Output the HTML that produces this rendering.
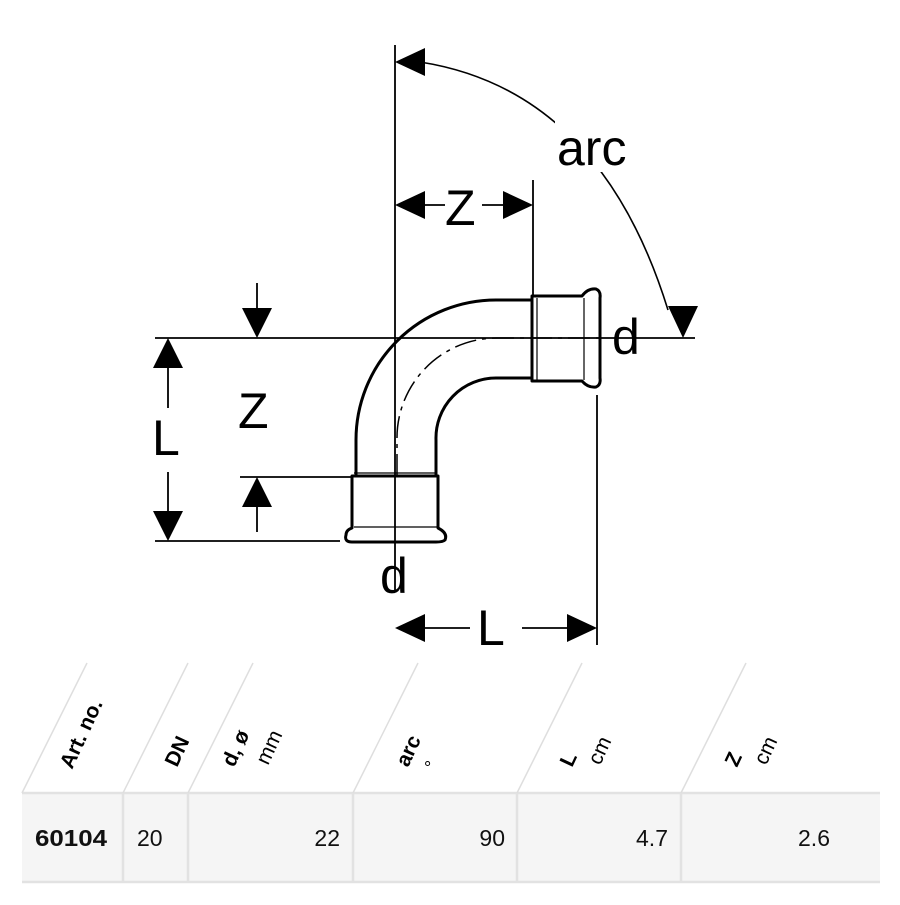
<!DOCTYPE html>
<html><head><meta charset="utf-8"><style>
body{margin:0;background:#fff;width:900px;height:900px;overflow:hidden;font-family:"Liberation Sans",sans-serif}
</style></head><body>
<svg width="900" height="900" viewBox="0 0 900 900" xmlns="http://www.w3.org/2000/svg">
<g stroke="#000" stroke-width="1.8" fill="none">
<line x1="395" y1="45" x2="395" y2="590"/>
<line x1="155" y1="338" x2="695" y2="338"/>
<line x1="533" y1="180" x2="533" y2="296"/>
<line x1="597" y1="395" x2="597" y2="645"/>
<line x1="155" y1="541" x2="340" y2="541"/>
<line x1="240" y1="477" x2="352" y2="477"/>
<line x1="168" y1="368" x2="168" y2="408"/>
<line x1="168" y1="472" x2="168" y2="511"/>
<line x1="257" y1="283" x2="257" y2="308"/>
<line x1="257" y1="507" x2="257" y2="532"/>
<line x1="425" y1="205" x2="445" y2="205"/>
<line x1="482" y1="205" x2="503" y2="205"/>
<line x1="425" y1="628" x2="470" y2="628"/>
<line x1="522" y1="628" x2="567" y2="628"/>
<path d="M420 62 Q600 90 668 310" stroke-width="1.6"/>
</g>
<rect x="555" y="120" width="90" height="52" fill="#fff"/>
<g fill="#000">
<polygon points="395,62 425,48 425,76"/>
<polygon points="683,338 668,306 698,306"/>
<polygon points="395,205 425,191 425,219"/>
<polygon points="533,205 503,191 503,219"/>
<polygon points="395,628 425,614 425,642"/>
<polygon points="597,628 567,614 567,642"/>
<polygon points="168,338 153,368 183,368"/>
<polygon points="168,541 153,511 183,511"/>
<polygon points="257,338 242,308 272,308"/>
<polygon points="257,477 242,507 272,507"/>
</g>
<g stroke="#000" stroke-width="3" fill="none" stroke-linejoin="round">
<path d="M356 476 L356 440 A140 140 0 0 1 496 300 L531 300"/>
<path d="M436 476 L436 440 A60 60 0 0 1 496 378 L531 378"/>
<path d="M532 296 L582 296 Q588 288 596 289 Q601 291 600 298 L600 378 Q601 385 596 387 Q588 388 582 381 L532 381 Z"/>
<path d="M352 476 L438 476 L438 528 Q448 533 445 540 Q443 542 436 542 L352 542 Q344 542 346 535 Q346 530 352 528 Z"/>
</g>
<g stroke="#000" stroke-width="1.2">
<line x1="532" y1="300" x2="532" y2="378"/><line x1="537" y1="298" x2="537" y2="380"/>
<line x1="584" y1="298" x2="584" y2="380"/>
<line x1="354" y1="473" x2="437" y2="473"/><line x1="354" y1="527" x2="437" y2="527"/>
</g>
<path d="M397 476 L397 440 A100 100 0 0 1 497 338 L600 338" stroke="#000" stroke-width="1.5" fill="none" stroke-dasharray="22,6,4,6"/>
<g font-size="50" fill="#000">
<text x="557" y="165">arc</text>
<text x="445" y="225">Z</text>
<text x="612" y="354">d</text>
<text x="238" y="428">Z</text>
<text x="152" y="455">L</text>
<text x="380" y="593">d</text>
<text x="477" y="645">L</text>
</g>
<rect x="22" y="793" width="858" height="89" fill="#f5f5f5"/>
<g stroke="#e2e2e2" stroke-width="2.5">
<line x1="22" y1="793" x2="880" y2="793"/><line x1="22" y1="882" x2="880" y2="882"/>
<line x1="123" y1="793" x2="123" y2="882"/><line x1="188" y1="793" x2="188" y2="882"/>
<line x1="353" y1="793" x2="353" y2="882"/><line x1="517" y1="793" x2="517" y2="882"/>
<line x1="681" y1="793" x2="681" y2="882"/>
</g>
<g stroke="#dedede" stroke-width="1.5">
<line x1="22" y1="793" x2="87" y2="663"/><line x1="123" y1="793" x2="188" y2="663"/>
<line x1="188" y1="793" x2="253" y2="663"/><line x1="353" y1="793" x2="418" y2="663"/>
<line x1="517" y1="793" x2="582" y2="663"/><line x1="681" y1="793" x2="746" y2="663"/>
</g>
<g font-size="21" fill="#000">
<text transform="translate(72,770) rotate(-65)" font-weight="bold">Art. no.</text>
<text transform="translate(177,768) rotate(-65)" font-weight="bold">DN</text>
<text transform="translate(234,768) rotate(-65)" font-weight="bold">d, ø</text>
<text transform="translate(268,766) rotate(-65)">mm</text>
<text transform="translate(408,768) rotate(-65)" font-weight="bold">arc</text>
<text x="424" y="774" font-size="18">°</text>
<text transform="translate(572,768) rotate(-65)" font-weight="bold">L</text>
<text transform="translate(600,766) rotate(-65)">cm</text>
<text transform="translate(737,768) rotate(-65)" font-weight="bold">Z</text>
<text transform="translate(766,766) rotate(-65)">cm</text>
</g>
<g font-size="23" fill="#111">
<text x="35" y="846" font-weight="bold" textLength="72" lengthAdjust="spacingAndGlyphs">60104</text>
<text x="137" y="846">20</text>
<text x="340" y="846" text-anchor="end">22</text>
<text x="505" y="846" text-anchor="end">90</text>
<text x="668" y="846" text-anchor="end">4.7</text>
<text x="830" y="846" text-anchor="end">2.6</text>
</g>
</svg>
</body></html>
